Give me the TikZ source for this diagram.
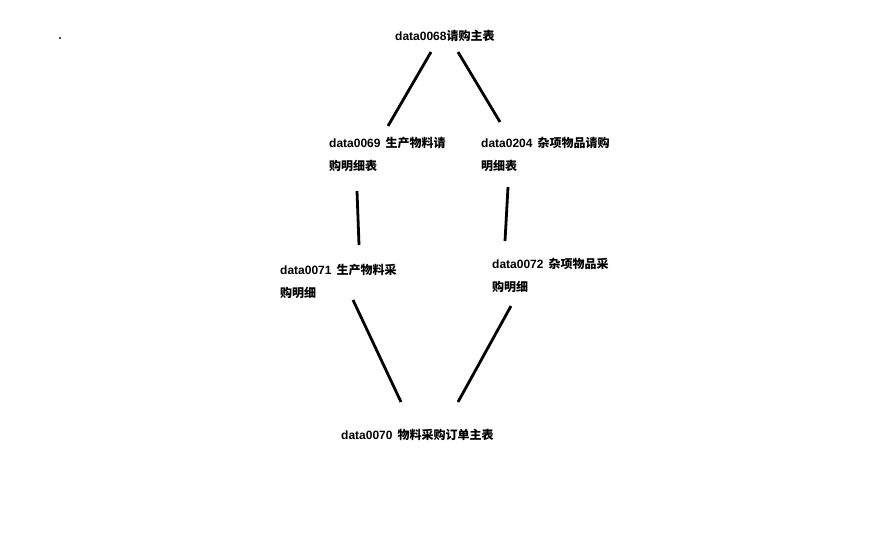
\documentclass[tikz,border=0pt]{standalone}
\usepackage{fontspec}
\setmainfont{Liberation Sans}
\newfontfamily\cjk{Noto Sans CJK SC}
\newcommand\zh[1]{{\cjk #1}}
\begin{document}
\begin{tikzpicture}[x=1pt,y=-1pt,
  lbl/.style={anchor=base west,inner sep=0pt,align=left,
    font=\fontsize{12}{23.5}\selectfont\bfseries},
  link/.style={line width=2.8pt,black,line cap=butt}]
\useasboundingbox (0,0) rectangle (888,554);
\fill[gray!60!black] (59.3,37.3) rectangle (61.2,39.2);
\node[lbl] (n68) at (395,40) {data0068\zh{请购主表}};
\node[lbl] (n69) at (329,170.5) {data0069\hspace{5pt}\zh{生产物料请}\\\zh{购明细表}};
\node[lbl] (n204) at (481,170.5) {data0204\hspace{5pt}\zh{杂项物品请购}\\\zh{明细表}};
\node[lbl] (n71) at (280,297.5) {data0071\hspace{5pt}\zh{生产物料采}\\\zh{购明细}};
\node[lbl] (n72) at (492,291.5) {data0072\hspace{5pt}\zh{杂项物品采}\\\zh{购明细}};
\node[lbl] (n70) at (341,439) {data0070\hspace{5pt}\zh{物料采购订单主表}};
\coordinate (a1) at (431,52); \coordinate (a2) at (388,126);
\coordinate (b1) at (458,52); \coordinate (b2) at (500,122);
\coordinate (c1) at (357,191); \coordinate (c2) at (359,245);
\coordinate (d1) at (508,187); \coordinate (d2) at (505,241);
\coordinate (e1) at (353,300); \coordinate (e2) at (401,402);
\coordinate (f1) at (511,306); \coordinate (f2) at (458,402);
\draw[link] (a1) -- (a2);
\draw[link] (b1) -- (b2);
\draw[link] (c1) -- (c2);
\draw[link] (d1) -- (d2);
\draw[link] (e1) -- (e2);
\draw[link] (f1) -- (f2);
\end{tikzpicture}
\end{document}
